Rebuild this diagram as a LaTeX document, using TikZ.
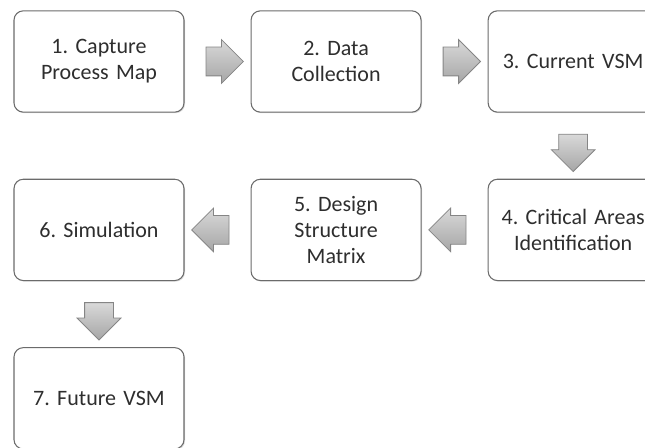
\documentclass[tikz,border=0pt]{standalone}
\usepackage{fontspec}
\setmainfont{Carlito}
\usepackage{tikz}
\usetikzlibrary{positioning, calc, shapes.arrows, shadows}
\frenchspacing

\begin{document}
\begin{tikzpicture}[x=0.75pt, y=-0.75pt, node distance=49.5pt,
        box/.style={rectangle, draw=black!58, line width=0.8pt, rounded corners=7pt,
                    fill=white, minimum width=127.5pt, minimum height=76pt,
                    text width=116pt, align=center,
                    font=\fontsize{16.5}{19.5}\selectfont, text=black!82,
                    drop shadow={shadow xshift=0.8pt, shadow yshift=-0.8pt,
                                 fill=black!40, opacity=0.35}},
        flow/.style={single arrow, draw=black!48, line width=0.6pt,
                     top color=gray!30, bottom color=gray!70,
                     minimum height=28pt, inner xsep=0pt, inner ysep=10.5pt,
                     single arrow head extend=5.6pt}]

        \clip (0,0) rectangle (645,448);

        % first row
        \node[box] (capture) at (99,61.5) {1. Capture\\Process Map};
        \node[box, right=of capture] (data)    {2. Data\\Collection};
        \node[box, right=of data]    (current) {3. Current VSM};

        % second row, right to left
        \node[box, below=of current] (critical) {4. Critical Areas\\Identification};
        \node[box, left=of critical] (dsm)      {5. Design\\Structure\\Matrix};
        \node[box, left=of dsm]      (sim)      {6. Simulation};

        % last step
        \node[box, below=of sim] (future) {7. Future VSM};

        % block arrows between the steps
        \node[flow] (a1) at ($(capture.east)!0.5!(data.west)$) {};
        \node[flow] (a2) at ($(data.east)!0.5!(current.west)$) {};
        \node[flow, rotate=-90] (a3) at ($(current.south)!0.5!(critical.north)$) {};
        \node[flow, rotate=180] (a4) at ($(critical.west)!0.5!(dsm.east)$) {};
        \node[flow, rotate=180] (a5) at ($(dsm.west)!0.5!(sim.east)$) {};
        \node[flow, rotate=-90] (a6) at ($(sim.south)!0.5!(future.north)$) {};
\end{tikzpicture}
\end{document}
